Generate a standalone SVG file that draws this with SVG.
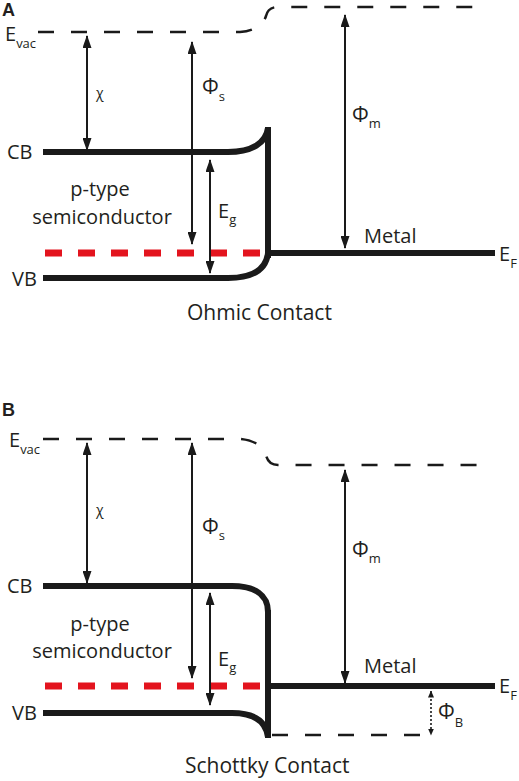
<svg xmlns="http://www.w3.org/2000/svg" width="519" height="781" viewBox="0 0 519 781">
<style>
text{font-family:"Open Sans","Liberation Sans",sans-serif;fill:#231f20}
.lbl{font-size:20px}
.ttl{font-size:21px}
.phi{font-size:21px}
.sub{font-size:13px}
.pan{font-family:"Liberation Sans",sans-serif;font-weight:bold;font-size:18px}
.band{fill:none;stroke:#1a1a1a;stroke-width:6;stroke-linecap:butt}
.vac{fill:none;stroke:#1a1a1a;stroke-width:2.5;stroke-dasharray:16 17}
.ef{fill:none;stroke:#e3141e;stroke-width:7;stroke-dasharray:17 16}
.arr{fill:none;stroke:#1a1a1a;stroke-width:2;marker-start:url(#ah);marker-end:url(#ah)}
.dot{fill:none;stroke:#1a1a1a;stroke-width:1.6;stroke-dasharray:2 2;marker-start:url(#ahs);marker-end:url(#ahs)}
</style>
<defs>
<marker id="ah" viewBox="0 0 13 9" refX="12" refY="4.5" markerWidth="13" markerHeight="9" markerUnits="userSpaceOnUse" orient="auto-start-reverse"><path d="M0,0 L13,4.5 L0,9 z" fill="#1a1a1a"/></marker>
<marker id="ahs" viewBox="0 0 7 6" refX="6.5" refY="3" markerWidth="7" markerHeight="6" markerUnits="userSpaceOnUse" orient="auto-start-reverse"><path d="M0,0 L7,3 L0,6 z" fill="#1a1a1a"/></marker>
</defs>

<g id="panelA">
<text class="pan" x="2" y="16">A</text>
<g id="A-evac"><path class="vac" d="M38,32 H240 C254,31 263,25 266,16 Q268,7 278,7 H487"/><text class="lbl" x="5" y="41">E<tspan class="sub" dy="7">vac</tspan></text></g>
<g id="A-cb"><path class="band" d="M43,152 H228 C252,152 266,143 268,128"/><text class="lbl" x="7" y="159">CB</text></g>
<g id="A-vb"><path class="band" d="M43,278 H228 C252,278 266,270 268,253"/><text class="lbl" x="12" y="286">VB</text></g>
<g id="A-interface"><path class="band" d="M268,127 V258"/></g>
<g id="A-metal"><path class="band" d="M268,253 H495"/><text class="lbl" x="364" y="243">Metal</text><text class="lbl" x="499" y="261">E<tspan class="sub" dy="7">F</tspan></text></g>
<g id="A-fermi"><path class="ef" d="M45,253 H265"/></g>
<g id="A-semi"><text class="lbl" x="100" y="196" text-anchor="middle">p-type</text><text class="lbl" x="102" y="224" text-anchor="middle">semiconductor</text></g>
<text class="ttl" x="187" y="320">Ohmic Contact</text>
</g>

<g id="panelB">
<text class="pan" x="2" y="416">B</text>
<g id="B-evac"><path class="vac" d="M43,439 H240 C254,440 263,446 266,455 Q268,465 278,465 H487"/><text class="lbl" x="9" y="447">E<tspan class="sub" dy="7">vac</tspan></text></g>
<g id="B-cb"><path class="band" d="M43,586 H232 C255,586 268,595 268,612"/><text class="lbl" x="7" y="593">CB</text></g>
<g id="B-vb"><path class="band" d="M43,713 H232 C255,713 266,722 268,737"/><text class="lbl" x="12" y="720">VB</text></g>
<g id="B-interface"><path class="band" d="M268,610 V738"/></g>
<g id="B-metal"><path class="band" d="M268,686 H495"/><text class="lbl" x="364" y="673">Metal</text><text class="lbl" x="499" y="693">E<tspan class="sub" dy="7">F</tspan></text></g>
<g id="B-fermi"><path class="ef" d="M45,686 H265"/></g>
<g id="B-barrier"><path class="vac" d="M272,735 H425"/></g>
<g id="B-semi"><text class="lbl" x="100" y="631" text-anchor="middle">p-type</text><text class="lbl" x="102" y="658" text-anchor="middle">semiconductor</text></g>
<text class="ttl" x="185" y="773">Schottky Contact</text>
</g>

<g id="connectors">
<path class="arr" d="M87,36 V150"/>
<path class="arr" d="M192,42 V244"/>
<path class="arr" d="M210,160 V273"/>
<path class="arr" d="M345,15 V248"/>
<path class="arr" d="M87,443 V583"/>
<path class="arr" d="M192,443 V678"/>
<path class="arr" d="M210,593 V705"/>
<path class="arr" d="M345,470 V683"/>
<path class="dot" d="M431,691 V735"/>
</g>

<g id="labels">
<text x="96" y="98" style="font-size:14px">χ</text>
<text class="phi" x="202" y="94">Φ<tspan class="sub" dy="7">s</tspan></text>
<text class="lbl" x="218" y="218">E<tspan class="sub" dy="6">g</tspan></text>
<text class="phi" x="352" y="122">Φ<tspan class="sub" dy="6">m</tspan></text>
<text x="96" y="515" style="font-size:14px">χ</text>
<text class="phi" x="202" y="534">Φ<tspan class="sub" dy="6">s</tspan></text>
<text class="lbl" x="218" y="666">E<tspan class="sub" dy="6">g</tspan></text>
<text class="phi" x="352" y="557">Φ<tspan class="sub" dy="6">m</tspan></text>
<text class="phi" x="438" y="719">Φ<tspan class="sub" dy="8">B</tspan></text>
</g>
</svg>
